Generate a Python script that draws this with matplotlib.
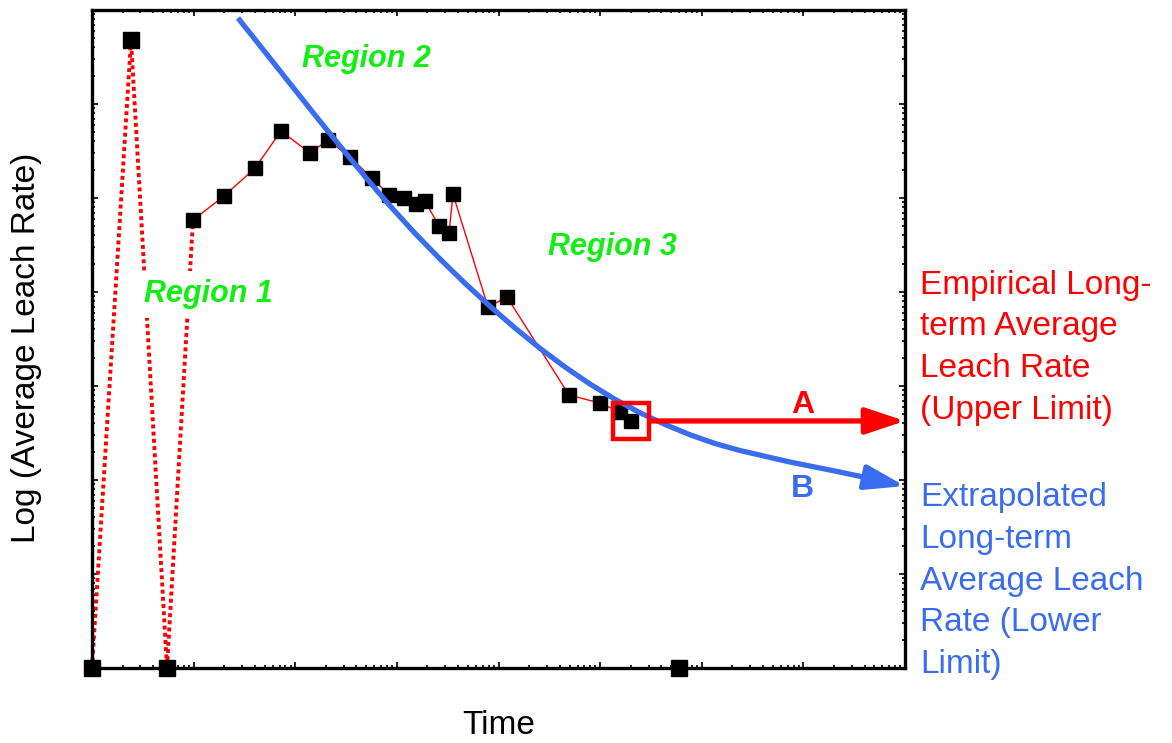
import numpy as np
import matplotlib
matplotlib.use("Agg")
import matplotlib.pyplot as plt
from matplotlib.ticker import LogLocator, NullFormatter

plt.rcParams['font.family'] = ['Liberation Sans', 'DejaVu Sans']

# leach test: time vs average leach rate (log-log); zero rates sit on the floor
FLOOR = 1e-7
t_early = [1.0, 2.42, 5.47, 9.86]
rate_early = [FLOOR, 0.48, FLOOR, 5.83e-3]

t_obs = [9.86, 19.9, 40.2, 72.4, 139.7, 210, 346, 569, 836, 1175, 1542, 1891,
         2596, 3258, 3565, 7882, 12130, 49430, 99770, 157000, 201400]
rate_obs = [5.83e-3, 1.05e-2, 2.08e-2, 5.16e-2, 3.01e-2, 4.14e-2, 2.73e-2,
            1.63e-2, 1.08e-2, 1.0e-2, 8.63e-3, 9.29e-3, 5.04e-3, 4.25e-3,
            1.10e-2, 6.92e-4, 8.85e-4, 8.02e-5, 6.59e-5, 5.28e-5, 4.25e-5]

t_late_zero = [597000]

# fitted decay curve used for extrapolation
t_fit = [27.33, 50.4, 88.8, 156.4, 275.6, 485.7, 855.6, 1508, 2657, 4682,
         8249, 14540, 25610, 45120, 79510, 140100, 246900, 434800, 766200,
         1.350e6, 2.379e6, 7.386e6, 2.293e7, 1e8]
rate_fit = [0.822, 0.3574, 0.1652, 0.0764, 0.03574, 0.01693, 8.26e-3, 4.21e-3,
            2.245e-3, 1.238e-3, 7.05e-4, 4.14e-4, 2.518e-4, 1.593e-4, 1.050e-4,
            7.22e-5, 5.19e-5, 3.90e-5, 3.03e-5, 2.445e-5, 2.06e-5, 1.554e-5,
            1.216e-5, 8.63e-6]

T_MIN, T_MAX = 1.0, 1e8
R_MIN, R_MAX = FLOOR, 1.0

RED = '#ff0000'
BLUE = '#3a6cf0'
GREEN = '#11ee11'

fig = plt.figure(figsize=(11.72, 7.43), dpi=100)
ax = fig.add_axes([0.0785, 0.1009, 0.6937, 0.8856])
ax.set_xscale('log')
ax.set_yscale('log')
ax.set_xlim(T_MIN, T_MAX)
ax.set_ylim(R_MIN, R_MAX)

# early transient (dotted) and measured series
ax.plot(t_early, rate_early, linestyle=(0, (1.0, 0.85)), color=RED, lw=2.8,
        zorder=2, clip_on=False)
ax.plot(t_obs, rate_obs, color=RED, lw=1.0, zorder=2)
ax.plot(t_early[1:2], rate_early[1:2], 's', color='black', ms=11, zorder=4,
        clip_on=False)
ax.plot([t_early[0], t_early[2]], [FLOOR, FLOOR], 's', color='black', ms=11,
        zorder=4, clip_on=False)
ax.plot(t_obs, rate_obs, 's', color='black', ms=9.5, zorder=4)
ax.plot(t_late_zero, [FLOOR], 's', color='black', ms=11, zorder=4,
        clip_on=False)

# fitted curve with arrow at the end
ax.plot(t_fit[:-1], rate_fit[:-1], color=BLUE, lw=3.8, zorder=5,
        solid_capstyle='butt', solid_joinstyle='round')
ax.annotate('', xy=(t_fit[-1], rate_fit[-1]), xytext=(t_fit[-2], rate_fit[-2]),
            arrowprops=dict(arrowstyle='-|>,head_length=2.4,head_width=0.75',
                            color=BLUE, lw=3.8, shrinkA=0, shrinkB=0),
            zorder=5, annotation_clip=False)

# last measured value box and horizontal extension
ax.plot(t_obs[-1], rate_obs[-1], 's', ms=26, mfc='none', mec=RED, mew=3.2,
        zorder=6)
ax.annotate('', xy=(T_MAX, rate_obs[-1]), xytext=(310000, rate_obs[-1]),
            arrowprops=dict(arrowstyle='-|>,head_length=2.4,head_width=0.8',
                            color=RED, lw=3.8, shrinkA=0, shrinkB=0),
            zorder=5, annotation_clip=False)

# annotations
reg = dict(color=GREEN, fontsize=22, fontweight='bold', fontstyle='italic',
           ha='center', va='center')
ax.text(0.338, 0.925, 'Region 2', transform=ax.transAxes, **reg)
ax.text(0.64, 0.64, 'Region 3', transform=ax.transAxes, **reg)
ax.text(0.143, 0.568, 'Region 1', transform=ax.transAxes,
        bbox=dict(facecolor='white', edgecolor='none', pad=6), **reg)

ax.text(0.874, 0.4, 'A', transform=ax.transAxes, color=RED, fontsize=23,
        fontweight='bold', ha='center', va='center')
ax.text(0.874, 0.272, 'B', transform=ax.transAxes, color=BLUE, fontsize=23,
        fontweight='bold', ha='center', va='center')

fig.text(0.785, 0.532, 'Empirical Long-\nterm Average\nLeach Rate\n(Upper Limit)',
         color=RED, fontsize=24, ha='left', va='center', linespacing=1.45)
fig.text(0.785, 0.218, 'Extrapolated\nLong-term\nAverage Leach\nRate (Lower\nLimit)',
         color=BLUE, fontsize=24, ha='left', va='center', linespacing=1.45)

ax.set_xlabel('Time', fontsize=24, labelpad=27)
ax.set_ylabel('Log (Average Leach Rate)', fontsize=24)
ax.yaxis.set_label_coords(-0.062, 0.487)

# bare log ticks on every side
for axis in (ax.xaxis, ax.yaxis):
    axis.set_major_locator(LogLocator(base=10, numticks=20))
    axis.set_minor_locator(LogLocator(base=10, subs=np.arange(2, 10), numticks=20))
    axis.set_major_formatter(NullFormatter())
    axis.set_minor_formatter(NullFormatter())
ax.tick_params(which='both', direction='in', top=True, right=True, width=1.2)
ax.tick_params(which='major', length=4)
ax.tick_params(which='minor', length=2.5)
for s in ax.spines.values():
    s.set_linewidth(2.4)

fig.savefig('out.png', dpi=100)
